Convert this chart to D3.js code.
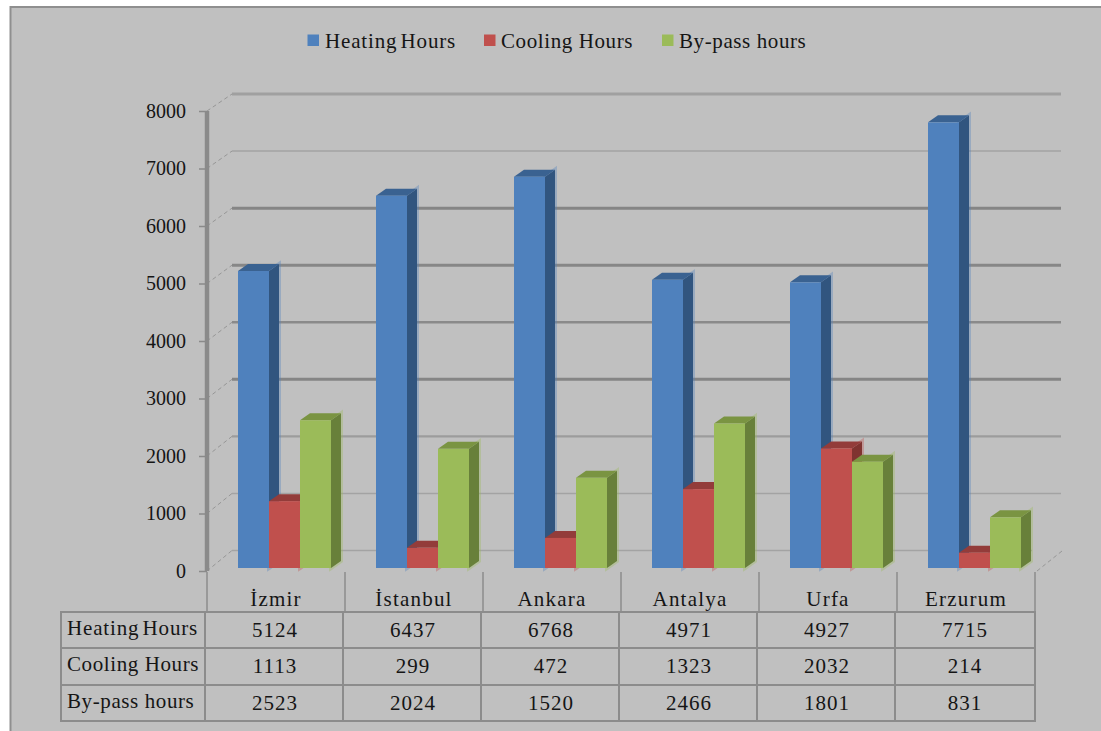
<!DOCTYPE html>
<html><head><meta charset="utf-8">
<script src="https://cdn.jsdelivr.net/npm/d3@7/dist/d3.min.js"></script>
<style>html,body{margin:0;padding:0;background:#fff}svg{display:block}text{font-family:"Liberation Serif","Times New Roman",serif;fill:#151515}</style>
</head><body><svg id="chart" width="1101" height="731"></svg>
<script>
const cities = ["İzmir","İstanbul","Ankara","Antalya","Urfa","Erzurum"];
const seriesNames = ["Heating Hours","Cooling Hours","By-pass hours"];
const heating = [5124,6437,6768,4971,4927,7715];
const cooling = [1113,299,472,1323,2032,214];
const bypass = [2523,2024,1520,2466,1801,831];
const rows = [heating,cooling,bypass];
const yTicks = [0,1000,2000,3000,4000,5000,6000,7000,8000];

const faces = [
  {front:"#4f81bd",side:"#31557f",top:"#3a6291"},
  {front:"#c0504d",side:"#7f3330",top:"#933c3a"},
  {front:"#9bbb59",side:"#68803a",top:"#7a9442"}
];
// Stroke weight and tone of each back-wall gridline, keyed by tick value
const gridStyle = {
  0:["#a3a3a3",1.5],1000:["#a3a3a3",1.6],2000:["#9c9c9c",2.2],3000:["#858585",3],
  4000:["#8a8a8a",2.6],5000:["#878787",3],6000:["#858585",3],7000:["#a3a3a3",1.6],8000:["#a0a0a0",3]
};

const svg = d3.select("#chart");
svg.append("rect").attr("x",10).attr("y",7).attr("width",1091).attr("height",724).attr("fill","#c0c0c0");
svg.append("path").attr("d","M10.5 731V7H1101").attr("fill","none").attr("stroke","#8f8f8f").attr("stroke-width",2);

// Scales: front axis plane, back wall, and the bar tops (which sit slightly proud of the floor)
const y = d3.scaleLinear().domain([0,8000]).range([571,111]);
const yBack = d3.scaleLinear().domain([0,8000]).range([550.5,94]);
const yBar = d3.scaleLinear().domain([0,8000]).range([565,106]);
const band = d3.scaleBand().domain(cities).range([207,1035]);
const inner = d3.scaleBand().domain(seriesNames).range([31,124]);
const barDepth = [10,7];
const barBase = 568;

// Back-wall gridlines with dashed connectors to the axis
const grid = svg.append("g");
yTicks.forEach(t=>{
  const [stroke,weight] = gridStyle[t];
  grid.append("line").attr("x1",207).attr("x2",232).attr("y1",y(t)).attr("y2",yBack(t))
    .attr("stroke","#969696").attr("stroke-width",1).attr("stroke-dasharray","4 3");
  grid.append("line").attr("x1",232).attr("x2",t===0?1032:1061).attr("y1",yBack(t)).attr("y2",yBack(t))
    .attr("stroke",stroke).attr("stroke-width",weight);
});
grid.append("line").attr("x1",1037).attr("x2",1062).attr("y1",571).attr("y2",551)
  .attr("stroke","#969696").attr("stroke-dasharray","4 3");

// Vertical axis
const axis = d3.axisLeft(y).tickValues(yTicks).tickSize(8).tickPadding(6).tickFormat(d3.format("d"));
const ax = svg.append("g").attr("transform","translate(207,0)").call(axis);
ax.select(".domain").attr("d",`M0 ${y(8000)}V${y(0)}`).attr("stroke","#8a8a8a").attr("stroke-width",4.5);
ax.selectAll(".tick line").attr("stroke","#8a8a8a").attr("stroke-width",1.5);
ax.selectAll("text").attr("font-size",20).attr("x",-21).attr("dy","0.32em")
  .style("font-family",'"Liberation Serif",serif').style("fill","#151515");

// Extruded bars
const bars = svg.append("g");
seriesNames.forEach((name,si)=>{
  const col = faces[si];
  cities.forEach((c,ci)=>{
    const x0 = band(c)+inner(name), w = inner.bandwidth(), t = yBar(rows[si][ci]);
    const [dx,dy] = barDepth;
    const side = `M${x0+w} ${barBase}L${x0+w+dx} ${barBase-dy}V${t-dy}L${x0+w} ${t}Z`;
    const g = bars.append("g");
    g.append("path").attr("d",side).attr("fill","none").attr("stroke",col.front).attr("stroke-width",4).attr("stroke-opacity",.35);
    g.append("path").attr("d",side).attr("fill",col.side);
    g.append("path").attr("d",`M${x0} ${t}L${x0+dx} ${t-dy}H${x0+w+dx}L${x0+w} ${t}Z`).attr("fill",col.top);
    g.append("rect").attr("x",x0).attr("y",t).attr("width",w).attr("height",barBase-t).attr("fill",col.front);
  });
});

// Data table beneath the plot
const rowLines = [612,648,685,721];
const edges = cities.map(c=>band(c));
const table = svg.append("g").attr("stroke","#8c8c8c").attr("fill","none");
rowLines.forEach(v=>table.append("line").attr("x1",60).attr("x2",1036).attr("y1",v).attr("y2",v).attr("stroke-width",2));
table.append("line").attr("x1",61).attr("x2",61).attr("y1",612).attr("y2",721).attr("stroke-width",2);
edges.forEach(v=>table.append("line").attr("x1",v-2).attr("x2",v-2).attr("y1",612).attr("y2",721).attr("stroke-width",2));
table.append("line").attr("x1",1035).attr("x2",1035).attr("y1",612).attr("y2",721).attr("stroke-width",2);
edges.concat([1035]).forEach(v=>table.append("line").attr("x1",v).attr("x2",v).attr("y1",572).attr("y2",611).attr("stroke-width",1.5));

const labels = svg.append("g").attr("font-size",21).attr("text-anchor","middle");
cities.forEach(c=>labels.append("text").attr("x",band(c)+band.bandwidth()/2).attr("y",606)
  .attr("letter-spacing",1.2).text(c));
const rowLabel = (sel,i)=>sel.attr("letter-spacing",i===0?0.85:0.6).attr("word-spacing",i===0?-3:0).text(seriesNames[i]);
rows.forEach((r,ri)=>{
  labels.append("text").attr("x",67).attr("y",rowLines[ri]+23).attr("text-anchor","start").call(rowLabel,ri);
  r.forEach((v,ci)=>labels.append("text").attr("x",band(cities[ci])+band.bandwidth()/2-1).attr("y",rowLines[ri]+25)
    .attr("letter-spacing",1).text(v));
});

// Legend
const legendX = [307.5,484,662];
const legendTextX = [325,501,679];
seriesNames.forEach((n,i)=>{
  svg.append("rect").attr("x",legendX[i]).attr("y",34.5).attr("width",11.5).attr("height",11.5).attr("fill",faces[i].front);
  svg.append("text").attr("x",legendTextX[i]).attr("y",48).attr("font-size",21).call(rowLabel,i);
});
</script></body></html>
